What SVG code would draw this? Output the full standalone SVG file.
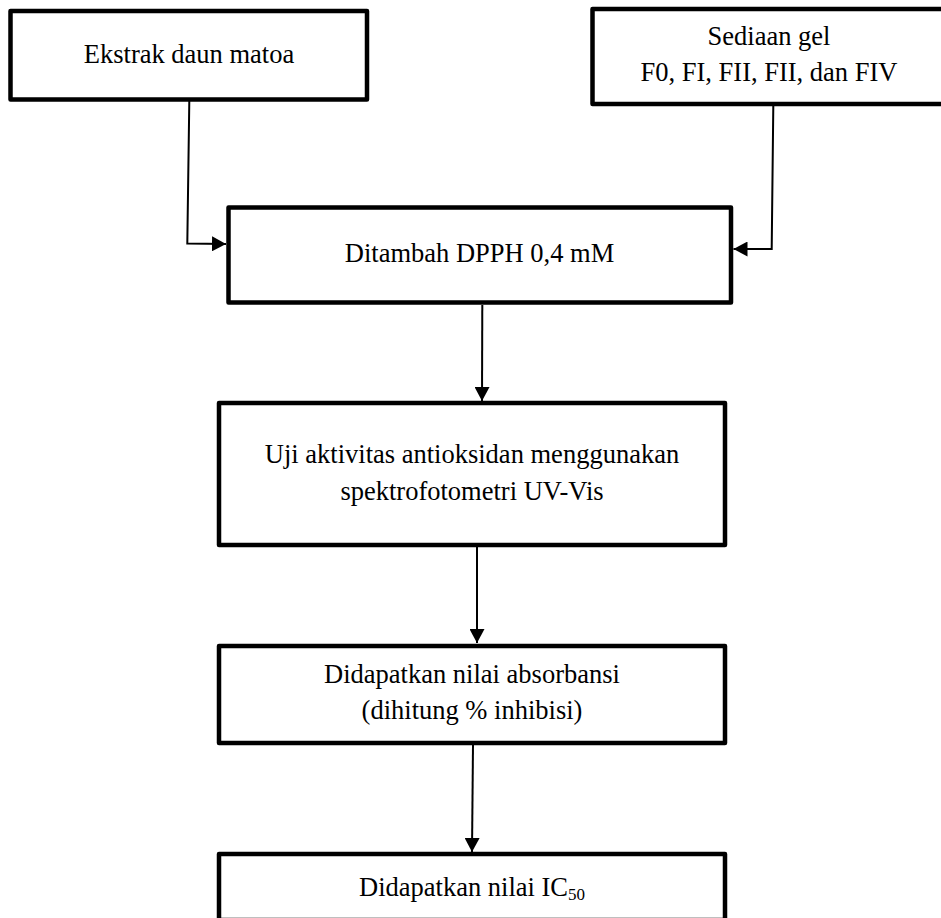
<svg xmlns="http://www.w3.org/2000/svg" width="941" height="918" viewBox="0 0 941 918">
<defs>
<style>
.box{fill:#fff;stroke:#000;stroke-width:4.5;stroke-linejoin:round}
.lbl{font-family:"Liberation Serif","Times New Roman",serif;font-size:26.5px;fill:#000;text-anchor:middle}
.sub{font-size:17px}
.conn{fill:none;stroke:#000;stroke-width:2}
</style>
<marker id="arr" markerUnits="userSpaceOnUse" markerWidth="15" markerHeight="15" refX="14" refY="7.5" orient="auto" viewBox="0 0 15 15">
<path d="M0,0 L14,7.5 L0,15 z" fill="#000"/>
</marker>
</defs>
<rect width="941" height="918" fill="#fff"/>
<g id="connectors">
<polyline class="conn" points="189.3,101 187.3,243.5 226,244" marker-end="url(#arr)"/>
<polyline class="conn" points="773.3,106 771.7,249 733.5,249" marker-end="url(#arr)"/>
<line class="conn" x1="482.3" y1="305" x2="482" y2="401" marker-end="url(#arr)"/>
<line class="conn" x1="477" y1="547" x2="477" y2="643" marker-end="url(#arr)"/>
<line class="conn" x1="473" y1="745" x2="472" y2="852" marker-end="url(#arr)"/>
</g>
<g id="node-ekstrak">
<rect class="box" x="10.5" y="11" width="356.5" height="88.5"/>
<text class="lbl" x="189" y="63">Ekstrak daun matoa</text>
</g>
<g id="node-sediaan">
<rect class="box" x="592.5" y="9" width="355" height="95"/>
<text class="lbl" x="769" y="45">Sediaan gel</text>
<text class="lbl" x="769" y="81">F0, FI, FII, FII, dan FIV</text>
</g>
<g id="node-dpph">
<rect class="box" x="228.5" y="207.5" width="502.5" height="95"/>
<text class="lbl" x="479.5" y="262">Ditambah DPPH 0,4 mM</text>
</g>
<g id="node-uji">
<rect class="box" x="219" y="403" width="506" height="142"/>
<text class="lbl" x="472" y="463">Uji aktivitas antioksidan menggunakan</text>
<text class="lbl" x="472" y="500">spektrofotometri UV-Vis</text>
</g>
<g id="node-absorbansi">
<rect class="box" x="219" y="646" width="506" height="97"/>
<text class="lbl" x="472" y="683">Didapatkan nilai absorbansi</text>
<text class="lbl" x="472" y="719">(dihitung % inhibisi)</text>
</g>
<g id="node-ic50">
<rect class="box" x="219" y="854" width="506" height="66"/>
<text class="lbl" x="472" y="896">Didapatkan nilai IC<tspan class="sub" dy="4">50</tspan></text>
</g>
</svg>
